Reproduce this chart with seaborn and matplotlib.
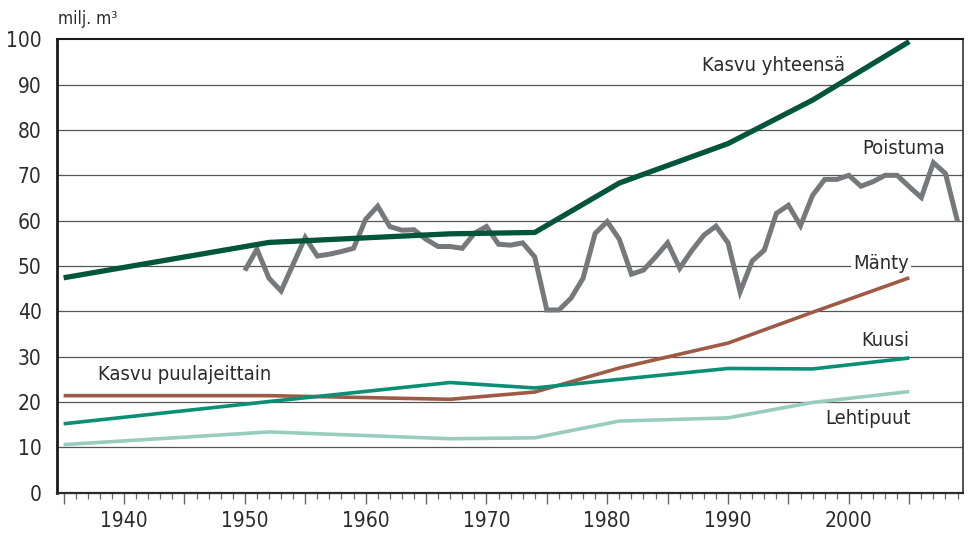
import numpy as np
import pandas as pd
import seaborn as sns
import matplotlib.pyplot as plt
from matplotlib.ticker import MultipleLocator

sns.set_style("white")
plt.rcParams['font.family'] = ['DejaVu Sans']
plt.rcParams['font.stretch'] = 'condensed'

# Forest inventory years and growth by tree species (milj. m3)
inv_years = [1935, 1952, 1967, 1974, 1981, 1990, 1997, 2005]
kasvu_yhteensa = [47.4, 55.2, 57.1, 57.4, 68.3, 77.0, 86.6, 99.5]
manty = [21.4, 21.4, 20.6, 22.2, 27.5, 33.0, 39.8, 47.4]
kuusi = [15.2, 20.1, 24.3, 23.1, 25.0, 27.4, 27.3, 29.7]
lehtipuut = [10.6, 13.4, 11.9, 12.1, 15.8, 16.5, 19.9, 22.3]

# Annual drain 1950-2009
poistuma_years = list(range(1950, 2010))
poistuma = [49.0, 53.7, 47.3, 44.5, 50.4, 56.3, 52.2, 52.6, 53.2, 53.9,
            60.3, 63.2, 58.7, 57.9, 58.0, 55.9, 54.3, 54.3, 53.9, 57.2,
            58.7, 54.8, 54.6, 55.1, 52.0, 40.3, 40.3, 42.9, 47.3, 57.2,
            59.8, 55.9, 48.2, 49.1, 52.0, 55.1, 49.5, 53.4, 56.8, 58.8,
            55.1, 44.3, 51.1, 53.5, 61.6, 63.4, 58.9, 65.6, 69.1, 69.1,
            70.0, 67.6, 68.6, 70.0, 70.0, 67.5, 65.1, 72.8, 70.4, 59.8]

text_col = '#2b2b2b'
fig = plt.figure(figsize=(9.74, 5.35), dpi=100)
ax = fig.add_axes([0.0585, 0.0791, 0.9302, 0.8474])

for y in range(10, 100, 10):
    ax.axhline(y, color='#555555', lw=0.9, zorder=1)

growth = pd.DataFrame({'vuosi': inv_years, 'yhteensa': kasvu_yhteensa,
                       'manty': manty, 'kuusi': kuusi, 'lehtipuut': lehtipuut})
drain = pd.DataFrame({'vuosi': poistuma_years, 'poistuma': poistuma})

sns.lineplot(data=growth, x='vuosi', y='lehtipuut', color='#98ccbf', lw=2.6, ax=ax,
             solid_capstyle='butt', zorder=3)
sns.lineplot(data=growth, x='vuosi', y='manty', color='#9e5a45', lw=2.6, ax=ax,
             solid_capstyle='butt', zorder=3)
sns.lineplot(data=growth, x='vuosi', y='kuusi', color='#0a8f76', lw=2.6, ax=ax,
             solid_capstyle='butt', zorder=4)
sns.lineplot(data=drain, x='vuosi', y='poistuma', color='#77787b', lw=3.6, ax=ax,
             solid_capstyle='butt', solid_joinstyle='miter', zorder=4)
sns.lineplot(data=growth, x='vuosi', y='yhteensa', color='#00553a', lw=3.8, ax=ax,
             solid_capstyle='butt', zorder=5)

ax.set_xlim(1934.45, 2009.45)
ax.set_ylim(0, 100)
ax.set_xlabel('')
ax.set_ylabel('')

ax.set_yticks(range(0, 101, 10))
ax.set_xticks(range(1935, 2010, 5))
ax.set_xticklabels([str(y) if y % 10 == 0 else '' for y in range(1935, 2010, 5)])
ax.xaxis.set_minor_locator(MultipleLocator(1))
ax.tick_params(axis='both', which='major', direction='out', color='#666666',
               labelsize=15, labelcolor=text_col, width=1.0)
ax.tick_params(axis='y', length=8, pad=3)
ax.tick_params(axis='x', which='major', length=8, pad=5, bottom=True)
ax.tick_params(axis='x', which='minor', length=4.5, width=0.9, color='#666666', bottom=True)

ax.spines['left'].set_linewidth(2.0)
ax.spines['left'].set_color('#1a1a1a')
ax.spines['bottom'].set_linewidth(1.6)
ax.spines['bottom'].set_color('#2a2a2a')
ax.spines['top'].set_linewidth(1.5)
ax.spines['top'].set_color('#1a1a1a')
ax.spines['right'].set_linewidth(1.2)
ax.spines['right'].set_color('#333333')

lab = dict(fontsize=14.5, color=text_col, zorder=6)
ax.text(1999.7, 94.3, 'Kasvu yhteensä', ha='right', va='center', **lab)
ax.text(2008.0, 76.0, 'Poistuma', ha='right', va='center', **lab)
ax.text(2005.0, 50.6, 'Mänty', ha='right', va='center',
        bbox=dict(facecolor='white', edgecolor='none', pad=1.5), **lab)
ax.text(2005.0, 33.5, 'Kuusi', ha='right', va='center', **lab)
ax.text(2005.1, 16.4, 'Lehtipuut', ha='right', va='center', **lab)
ax.text(1937.85, 26.0, 'Kasvu puulajeittain', ha='left', va='center', **lab)

fig.text(58 / 974, 1 - 19 / 535, 'milj. m³', ha='left', va='center',
         fontsize=12.5, color=text_col)

fig.savefig('out.png', dpi=100)
